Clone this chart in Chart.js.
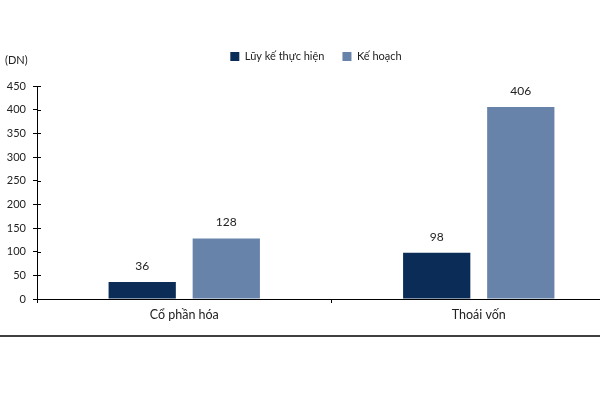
<!DOCTYPE html>
<html>
<head>
<meta charset="utf-8">
<script src="https://cdn.jsdelivr.net/npm/chart.js@4"></script>
<style>
  body { margin: 0; background: #fff; overflow: hidden; }
  #wrap { width: 600px; height: 394px; overflow: hidden; }
</style>
</head>
<body>
<div id="wrap"><canvas id="myChart" width="630" height="394"></canvas></div>
<script>
var categories = ['Cổ phần hóa', 'Thoái vốn'];
var seriesNames = ['Lũy kế thực hiện', 'Kế hoạch'];
var thucHien = [36, 98];
var keHoach = [128, 406];
var yTicks = [0, 50, 100, 150, 200, 250, 300, 350, 400, 450];

var FONT = 'Lato, "Open Sans", sans-serif';

// nhan so tren dau cot + chu (DN) + duong ke duoi
var extras = {
  id: 'extras',
  afterDatasetsDraw(chart) {
    var ctx = chart.ctx;
    ctx.save();
    ctx.fillStyle = '#222';
    ctx.font = '12px ' + FONT;
    ctx.textAlign = 'center';
    ctx.textBaseline = 'middle';
    chart.data.datasets.forEach(function(ds, i) {
      chart.getDatasetMeta(i).data.forEach(function(bar, j) {
        ctx.fillText(ds.data[j], bar.x, bar.y - 16);
      });
    });
    ctx.textAlign = 'left';
    ctx.font = '11px ' + FONT;
    ctx.fillText('(DN)', 5, 60);
    // y ticks cat qua truc
    var y = chart.scales.y;
    ctx.strokeStyle = '#000';
    ctx.lineWidth = 1;
    yTicks.forEach(function(v) {
      var py = Math.round(y.getPixelForValue(v)) + 0.5;
      ctx.beginPath();
      ctx.moveTo(y.right, py);
      ctx.lineTo(y.right + 4, py);
      ctx.stroke();
    });
    ctx.lineWidth = 1.5;
    ctx.beginPath();
    ctx.moveTo(0, 336);
    ctx.lineTo(600, 336);
    ctx.stroke();
    ctx.restore();
  }
};

const ctx = document.getElementById('myChart');
new Chart(ctx, {
  type: 'bar',
  data: {
    labels: categories,
    datasets: [{
      label: seriesNames[0],
      data: thucHien,
      backgroundColor: '#0b2c57'
    }, {
      label: seriesNames[1],
      data: keHoach,
      backgroundColor: '#6783a9'
    }]
  },
  options: {
    responsive: false,
    animation: false,
    categoryPercentage: 0.571,
    barPercentage: 0.80,
    layout: {
      padding: { top: 33, right: 4, bottom: 65, left: 6 }
    },
    plugins: {
      legend: {
        position: 'top',
        labels: {
          boxWidth: 9,
          boxHeight: 9,
          padding: 18,
          color: '#222',
          font: { size: 11, family: FONT }
        }
      },
      // khoang trong giua legend va vung ve
      subtitle: {
        display: true,
        text: '',
        position: 'top',
        weight: 500,
        font: { size: 1 },
        padding: { top: 0, bottom: 13 }
      },
      tooltip: { enabled: false }
    },
    scales: {
      x: {
        grid: {
          display: true,
          drawOnChartArea: false,
          tickLength: 4,
          color: '#000'
        },
        border: { color: '#000', width: 1 },
        ticks: {
          color: '#222',
          padding: 4,
          font: { size: 12.5, family: FONT }
        },
        afterFit: function(s) { s.height = 30; }
      },
      y: {
        min: 0,
        max: 450,
        afterBuildTicks: function(s) {
          s.ticks = yTicks.map(function(v) { return { value: v }; });
        },
        grid: {
          display: true,
          drawOnChartArea: false,
          tickLength: 4,
          color: '#000'
        },
        border: { color: '#000', width: 1 },
        ticks: {
          color: '#222',
          padding: 7,
          font: { size: 11, family: FONT }
        },
        afterFit: function(s) { s.width = 31; }
      }
    }
  },
  plugins: [extras]
});
</script>
</body>
</html>
